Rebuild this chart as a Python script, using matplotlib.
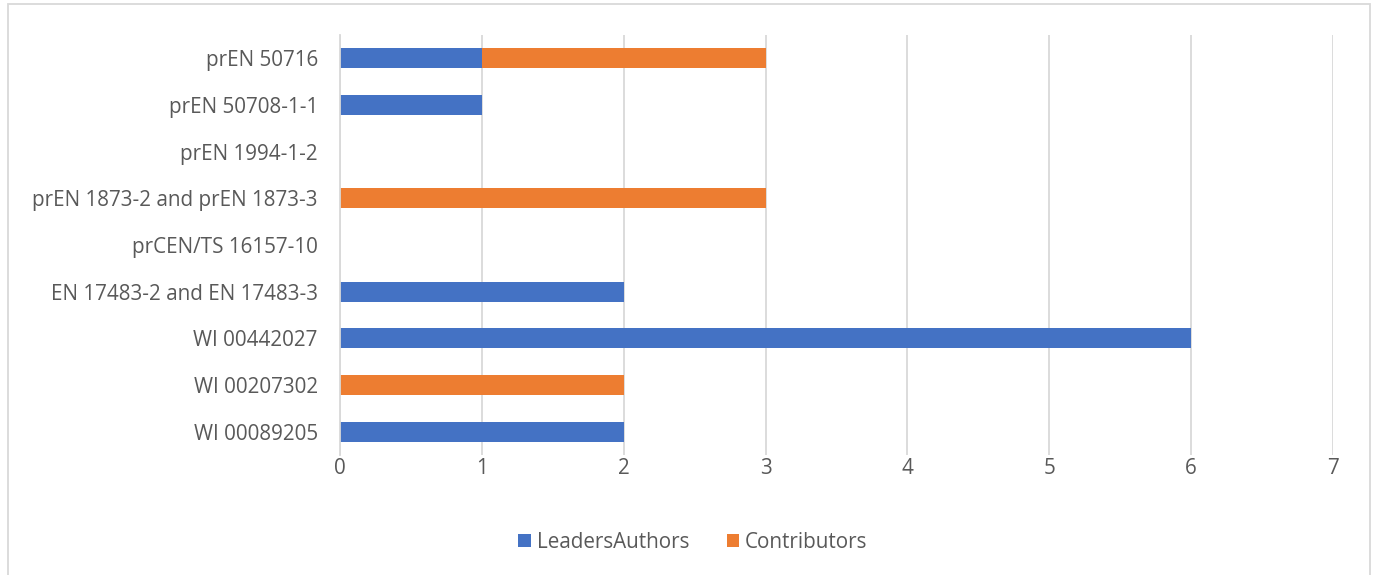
import matplotlib
matplotlib.use('Agg')
import matplotlib.pyplot as plt
import numpy as np

# categories listed bottom to top
standards = ['WI 00089205', 'WI 00207302', 'WI 00442027', 'EN 17483-2 and EN 17483-3',
             'prCEN/TS 16157-10', 'prEN 1873-2 and prEN 1873-3', 'prEN 1994-1-2',
             'prEN 50708-1-1', 'prEN 50716']
leaders_authors = [2, 0, 6, 2, 0, 0, 0, 1, 1]
contributors = [0, 2, 0, 0, 0, 3, 0, 0, 2]

plt.rcParams['font.family'] = ['Open Sans', 'DejaVu Sans']
txt = '#595959'
grid_col = '#d9d9d9'

fig = plt.figure(figsize=(13.75, 5.75), dpi=100)
ax = fig.add_axes([0.2473, 0.2087, 0.7222, 0.7304])

y = np.arange(len(standards))
h = 0.43
ax.barh(y, leaders_authors, height=h, color='#4472c4', label='LeadersAuthors')
ax.barh(y, contributors, height=h, left=leaders_authors, color='#ed7d31', label='Contributors')

ax.set_xlim(0, 7)
ax.set_ylim(-0.5, len(standards) - 0.5)
ax.set_xticks(range(8))
ax.set_yticks(y)
ax.set_yticklabels(standards)
ax.xaxis.grid(True, color=grid_col, linewidth=1.3)
ax.set_axisbelow(True)
for s in ['top', 'right', 'bottom']:
    ax.spines[s].set_visible(False)
ax.spines['left'].set_color(grid_col)
ax.spines['left'].set_linewidth(1.3)
ax.tick_params(axis='both', length=0, labelsize=14.9, labelcolor=txt)
ax.tick_params(axis='x', pad=2)
ax.tick_params(axis='y', pad=16)

fig.legend(loc='center', bbox_to_anchor=(0.504, 0.057), ncol=2, frameon=False,
           fontsize=14.9, labelcolor=txt, handlelength=0.6, handleheight=0.6,
           handletextpad=0.3, columnspacing=1.8)

# outer chart border
fig.patches.append(plt.Rectangle((0.006, -0.01), 0.99, 1.003, transform=fig.transFigure,
                                 fill=False, edgecolor='#d9d9d9', linewidth=1.3))

fig.savefig('out.png', dpi=100)
